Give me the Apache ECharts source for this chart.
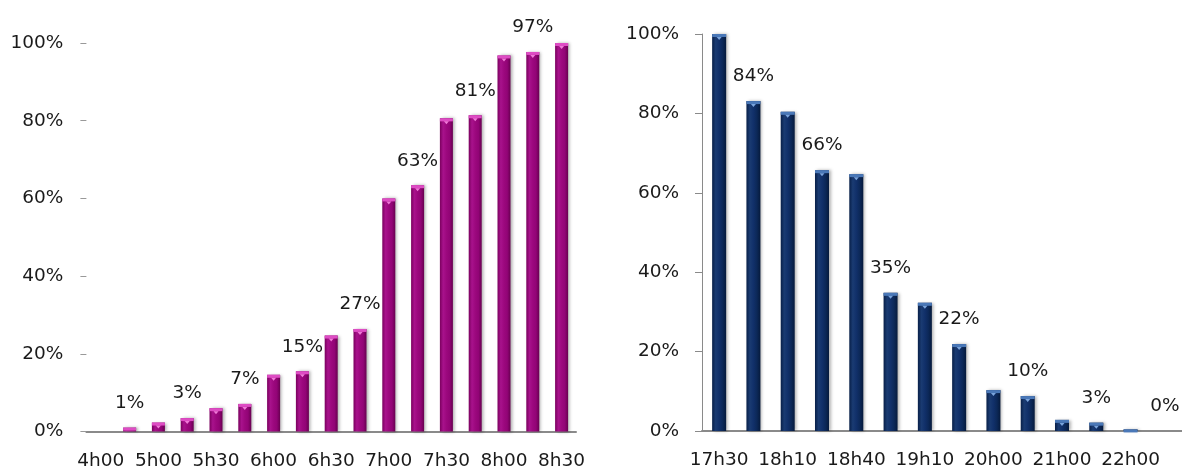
<!DOCTYPE html>
<html>
<head>
<meta charset="utf-8">
<script src="https://cdn.jsdelivr.net/npm/echarts@6/dist/echarts.min.js"></script>
<style>
html,body{margin:0;padding:0;background:#fff;}
#c{width:1182px;height:473px;}
</style>
</head>
<body>
<div id="c"></div>
<script>
// Left chart (morning)
const leftCategories = ['4h00','4h30','5h00','5h15','5h30','5h45','6h00','6h15','6h30','6h45','7h00','7h15','7h30','7h45','8h00','8h15','8h30'];
const leftValues = [0, 1.0, 2.3, 3.45, 6.0, 7.1, 14.6, 15.5, 24.7, 26.4, 60.0, 63.4, 80.6, 81.4, 96.8, 97.7, 100];
const leftLabels = [null, 1, null, 3, null, 7, null, 15, null, 27, null, 63, null, 81, null, 97, null];

// Right chart (evening)
const rightCategories = ['17h30','17h50','18h10','18h25','18h40','18h55','19h10','19h30','20h00','20h30','21h00','21h30','22h00','22h30'];
const rightValues = [100, 83.1, 80.4, 65.7, 64.7, 34.8, 32.3, 21.9, 10.3, 8.8, 2.8, 2.1, 0.4, 0];
const rightLabels = [null, 84, null, 66, null, 35, null, 22, null, 10, null, 3, null, 0];

const yTicks = { min: 0, max: 100, interval: 20 };

const FONT = 'DejaVu Sans';
const FS = 18.5;
const TXT = '#1a1a1a';

function grad(stops) {
  return new echarts.graphic.LinearGradient(0, 0, 1, 0, stops.map((c, i) => ({ offset: i / (stops.length - 1), color: c })));
}

const leftBody = grad(['#7a005e', '#a8128c', '#9c087e', '#920476', '#680050']);
const rightBody = grad(['#081f48', '#1a3b72', '#11306a', '#0c2858', '#061a3c']);

function labelFmt(arr) {
  return p => (arr[p.dataIndex] === null ? '' : arr[p.dataIndex] + '%');
}

const chart = echarts.init(document.getElementById('c'), null, { renderer: 'canvas' });

const yAxisBase = {
  type: 'value',
  min: yTicks.min, max: yTicks.max, interval: yTicks.interval,
  splitLine: { show: false },
  axisLabel: { formatter: '{value}%', color: TXT, fontFamily: FONT, fontSize: FS, margin: 23 }
};

chart.setOption({
  animation: false,
  backgroundColor: '#fff',
  grid: [
    { left: 86.4, width: 489.6, top: 43, height: 388.5 },
    { left: 702, width: 481.6, top: 34, height: 397 }
  ],
  xAxis: [
    {
      gridIndex: 0, type: 'category', data: leftCategories, boundaryGap: true,
      axisLine: { lineStyle: { color: '#8a8a8a', width: 2 } },
      axisTick: { interval: 1, length: 7, lineStyle: { color: '#8a8a8a', width: 1 } },
      axisLabel: { interval: 1, color: TXT, fontFamily: FONT, fontSize: FS, margin: 20 }
    },
    {
      gridIndex: 1, type: 'category', data: rightCategories, boundaryGap: true,
      axisLine: { lineStyle: { color: '#8a8a8a', width: 2 } },
      axisTick: { interval: 0, length: 7, lineStyle: { color: '#8a8a8a', width: 1 } },
      axisLabel: { interval: 1, color: TXT, fontFamily: FONT, fontSize: FS, margin: 20 }
    }
  ],
  yAxis: [
    Object.assign({}, yAxisBase, {
      gridIndex: 0,
      axisLine: { show: false },
      axisTick: { show: true, length: 6, lineStyle: { color: '#999' } }
    }),
    Object.assign({}, yAxisBase, {
      gridIndex: 1,
      axisLine: { show: true, lineStyle: { color: '#8a8a8a', width: 1 } },
      axisTick: { show: true, length: 7, lineStyle: { color: '#8a8a8a' } }
    })
  ],
  series: [
    {
      type: 'bar', xAxisIndex: 0, yAxisIndex: 0, data: leftValues, barWidth: 13,
      itemStyle: { color: leftBody, shadowColor: 'rgba(0,0,0,0.3)', shadowBlur: 3, shadowOffsetX: 2 },
      label: { show: true, position: 'top', distance: 15, formatter: labelFmt(leftLabels), color: TXT, fontFamily: FONT, fontSize: FS }
    },
    {
      type: 'pictorialBar', xAxisIndex: 0, yAxisIndex: 0,
      data: leftValues.map(v => (v > 0 ? v : '-')),
      symbol: 'rect', symbolSize: [13, 3], symbolPosition: 'end', z: 3,
      itemStyle: { color: '#de4cc4' }
    },
    {
      type: 'pictorialBar', xAxisIndex: 0, yAxisIndex: 0,
      data: leftValues.map(v => (v > 1.5 ? v : '-')),
      symbol: 'triangle', symbolRotate: 180, symbolSize: [5, 3], symbolPosition: 'end', symbolOffset: [0, 3], z: 4,
      itemStyle: { color: '#f07ad8' }
    },
    {
      type: 'bar', xAxisIndex: 1, yAxisIndex: 1, data: rightValues, barWidth: 14,
      itemStyle: { color: rightBody, shadowColor: 'rgba(0,0,0,0.3)', shadowBlur: 3, shadowOffsetX: 2 },
      label: { show: true, position: 'top', distance: 15, formatter: labelFmt(rightLabels), color: TXT, fontFamily: FONT, fontSize: FS }
    },
    {
      type: 'pictorialBar', xAxisIndex: 1, yAxisIndex: 1,
      data: rightValues.map(v => (v > 0 ? v : '-')),
      symbol: 'rect', symbolSize: [14, 3], symbolPosition: 'end', z: 3,
      itemStyle: { color: '#4a78b8' }
    },
    {
      type: 'pictorialBar', xAxisIndex: 1, yAxisIndex: 1,
      data: rightValues.map(v => (v > 1.5 ? v : '-')),
      symbol: 'triangle', symbolRotate: 180, symbolSize: [5, 3], symbolPosition: 'end', symbolOffset: [0, 3], z: 4,
      itemStyle: { color: '#7aa4dc' }
    }
  ]
});
</script>
</body>
</html>
